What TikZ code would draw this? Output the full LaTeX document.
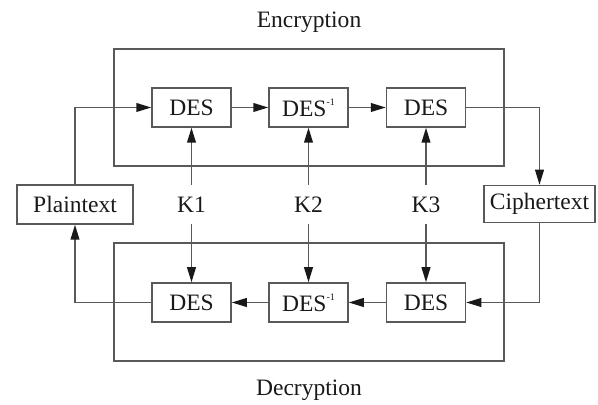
\documentclass[tikz,border=0pt]{standalone}
\usepackage{fontspec}
\setmainfont{Liberation Serif}
\usetikzlibrary{arrows.meta}
\definecolor{ln}{gray}{0.35}
\definecolor{tx}{gray}{0.1}
\tikzset{
  blk/.style={draw=ln, line width=0.75bp, inner sep=0pt, minimum width=39.5bp, minimum height=19.5bp, text=tx, font=\fontsize{11.8}{13}\selectfont},
  iobox/.style={draw=ln, line width=0.75bp, inner sep=0pt, minimum height=19.5bp, text=tx, font=\fontsize{11.8}{13}\selectfont},
  frame/.style={draw=ln, line width=0.75bp, inner sep=0pt, minimum width=195bp},
  lbl/.style={inner sep=0pt, text=tx, font=\fontsize{11.8}{13}\selectfont},
  conn/.style={draw=ln, line width=0.75bp, -{Triangle[length=7.5bp,width=4.4bp,color=tx]}}
}
\newcommand{\desinv}{DES\raisebox{1.0ex}{\fontsize{5}{5}\selectfont -1}}
\begin{document}
\begin{tikzpicture}[x=0.5bp,y=-0.5bp]
\useasboundingbox (0,0) rectangle (598,405);
% frames
\node[frame, minimum height=58.5bp] (enc) at (309,107.5) {};
\node[frame, minimum height=59bp] (dec) at (309,302) {};
\node[lbl] (enctitle) at (309,22) {Encryption};
\node[lbl] (dectitle) at (309,390) {Decryption};
% encryption row
\node[blk] (e1) at (191.5,107.5) {DES};
\node[blk] (e2) at (308.5,107.5) {\desinv};
\node[blk] (e3) at (426,107.5) {DES};
% decryption row
\node[blk] (d1) at (191.5,302.5) {DES};
\node[blk] (d2) at (308.5,302.5) {\desinv};
\node[blk] (d3) at (426,302.5) {DES};
% io
\node[iobox, minimum width=58bp] (pt) at (75,204.5) {Plaintext};
\node[iobox, minimum width=55.5bp, minimum height=18.5bp] (ct) at (539.5,204) {Ciphertext};
% keys
\node[lbl, minimum height=19.5bp] (k1) at (191.5,204.5) {K1};
\node[lbl, minimum height=19.5bp] (k2) at (308.5,204.5) {K2};
\node[lbl, minimum height=19.5bp] (k3) at (426,204.5) {K3};
% encryption connectors
\draw[conn] (pt.north) |- (e1.west);
\draw[conn] (e1) -- (e2);
\draw[conn] (e2) -- (e3);
\draw[conn] (e3.east) -| (ct.north);
\draw[conn] (k1.north) -- (e1.south);
\draw[conn] (k2.north) -- (e2.south);
\draw[conn] (k3.north) -- (e3.south);
% decryption connectors
\draw[conn] (ct.south) |- (d3.east);
\draw[conn] (d3) -- (d2);
\draw[conn] (d2) -- (d1);
\draw[conn] (d1.west) -| (pt.south);
\draw[conn] (k1.south) -- (d1.north);
\draw[conn] (k2.south) -- (d2.north);
\draw[conn] (k3.south) -- (d3.north);
\end{tikzpicture}
\end{document}
